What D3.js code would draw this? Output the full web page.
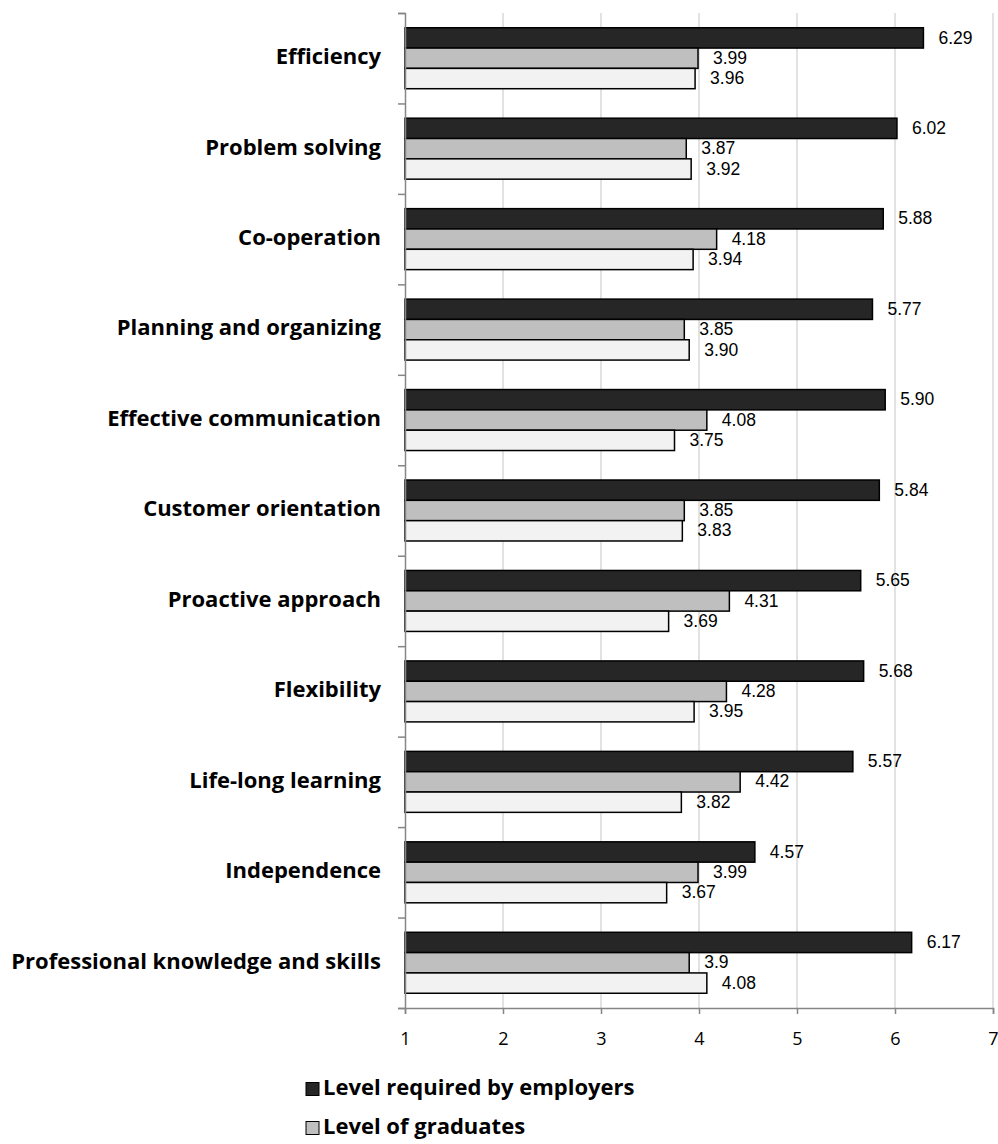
<!DOCTYPE html>
<html lang="en">
<head>
    <meta charset="UTF-8">
    <title>Competences: employers vs graduates</title>
    <script src="https://d3js.org/d3.v7.min.js"></script>
    <style>
        body { margin: 0; background: #fff; }
        svg text { font-family: "Open Sans", "Liberation Sans", sans-serif; fill: #000; }
        svg text.val { font-family: "Liberation Sans", Arial, sans-serif; }
    </style>
</head>
<body>
    <svg id="chart" width="998" height="1144"></svg>
    <script>
// competences, top to bottom as drawn
const categories = [
    "Efficiency", "Problem solving", "Co-operation", "Planning and organizing",
    "Effective communication", "Customer orientation", "Proactive approach",
    "Flexibility", "Life-long learning", "Independence",
    "Professional knowledge and skills"
];

// value labels exactly as printed on the chart
const requiredByEmployers = ["6.29", "6.02", "5.88", "5.77", "5.90", "5.84", "5.65", "5.68", "5.57", "4.57", "6.17"];
const levelOfGraduates    = ["3.99", "3.87", "4.18", "3.85", "4.08", "3.85", "4.31", "4.28", "4.42", "3.99", "3.9"];
const thirdSeries         = ["3.96", "3.92", "3.94", "3.90", "3.75", "3.83", "3.69", "3.95", "3.82", "3.67", "4.08"];

const seriesNames = ["Level required by employers", "Level of graduates", "Third series"];
const seriesColors = ["#262626", "#bfbfbf", "#f2f2f2"];
const xTicks = [1, 2, 3, 4, 5, 6, 7];

const series = [requiredByEmployers, levelOfGraduates, thirdSeries];

const svg = d3.select("#chart");
const plot = { left: 405, right: 993, top: 13, bottom: 1008 };

const x = d3.scaleLinear()
    .domain([1, 7])
    .range([plot.left, plot.right]);

const y = d3.scaleBand()
    .domain(categories)
    .range([plot.top, plot.bottom])
    .paddingInner(0.326)
    .paddingOuter(0.163);

const ySub = d3.scaleBand()
    .domain(d3.range(series.length))
    .range([0, y.bandwidth()]);

// category boundaries for the y axis tick marks
const yEdges = d3.scaleLinear()
    .domain([0, categories.length])
    .range([plot.top, plot.bottom]);

// vertical gridlines
svg.append("g")
    .selectAll("line")
    .data(xTicks.slice(1))
    .enter().append("line")
    .attr("x1", d => x(d))
    .attr("x2", d => x(d))
    .attr("y1", plot.top)
    .attr("y2", plot.bottom)
    .style("stroke", "#d9d9d9")
    .style("stroke-width", 1.5);

// bars + value labels
const groups = svg.append("g")
    .selectAll("g")
    .data(categories)
    .enter().append("g")
    .attr("transform", d => "translate(0," + y(d) + ")");

groups.each(function(cat, ci) {
    const g = d3.select(this);
    series.forEach(function(s, si) {
        const v = +s[ci];
        g.append("rect")
            .attr("x", x(1))
            .attr("y", ySub(si))
            .attr("width", x(v) - x(1))
            .attr("height", ySub.bandwidth())
            .style("fill", seriesColors[si])
            .style("stroke", "#000")
            .style("stroke-width", 1.5);
        g.append("text")
            .attr("class", "val")
            .attr("x", x(v) + 15)
            .attr("y", ySub(si) + ySub.bandwidth() / 2 + 1)
            .attr("dominant-baseline", "middle")
            .style("font-size", "17.5px")
            .text(s[ci]);
    });
});

// x axis
const xAxis = svg.append("g")
    .attr("transform", "translate(0," + plot.bottom + ")")
    .call(d3.axisBottom(x).tickValues(xTicks).tickSize(6).tickPadding(18).tickFormat(d3.format("d")));
xAxis.select(".domain").style("stroke", "#868686").style("stroke-width", 1.5);
xAxis.selectAll(".tick line").style("stroke", "#868686").style("stroke-width", 1.5);
xAxis.selectAll(".tick text").style("font-size", "18px").style("font-family", "Open Sans");

// y axis
const yAxis = svg.append("g")
    .attr("transform", "translate(" + plot.left + ",0)")
    .call(d3.axisLeft(yEdges).tickValues(d3.range(categories.length + 1)).tickSize(7).tickFormat(""));
yAxis.select(".domain").style("stroke", "#868686").style("stroke-width", 1.5);
yAxis.selectAll(".tick line").style("stroke", "#868686").style("stroke-width", 1.5);

// category labels
svg.append("g")
    .selectAll("text")
    .data(categories)
    .enter().append("text")
    .attr("x", 381)
    .attr("y", d => y(d) + y.bandwidth() / 2)
    .attr("text-anchor", "end")
    .attr("dominant-baseline", "middle")
    .style("font-size", "22px")
    .style("font-weight", "bold")
    .text(d => d);

// legend (only the first two entries are visible in the original)
const legend = svg.append("g")
    .attr("transform", "translate(306,1089)");

legend.selectAll("rect")
    .data(seriesNames.slice(0, 2))
    .enter().append("rect")
    .attr("x", 0)
    .attr("y", (d, i) => i * 39 - 6.5)
    .attr("width", 13)
    .attr("height", 13)
    .style("fill", (d, i) => seriesColors[i])
    .style("stroke", "#000")
    .style("stroke-width", 1);

legend.selectAll("text")
    .data(seriesNames.slice(0, 2))
    .enter().append("text")
    .attr("x", 17)
    .attr("y", (d, i) => i * 39)
    .attr("dominant-baseline", "middle")
    .style("font-size", "22px")
    .style("font-weight", "bold")
    .text(d => d);
    </script>
</body>
</html>
